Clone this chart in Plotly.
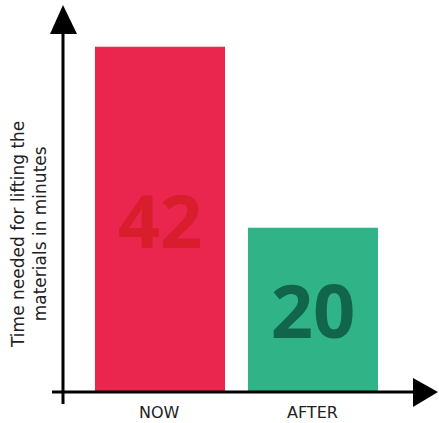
import plotly.graph_objects as go

categories = ["NOW", "AFTER"]
values = [42, 20]
bar_colors = ["#EA264F", "#30B386"]
label_colors = ["#D81E2C", "#10654A"]
y_title_lines = ["Time needed for lifting the", "materials in minutes"]

W, H = 439, 423
def px(x): return x / W
def py(y): return 1 - y / H

fig = go.Figure(go.Bar(
    x=[0, 1], y=values, width=0.85,
    marker=dict(color=bar_colors, line=dict(width=0)),
    text=[str(v) for v in values], textposition="inside",
    insidetextanchor="middle", textangle=0,
    textfont=dict(family="Open Sans", size=74, color=label_colors, weight=700),
    cliponaxis=False,
))

fig.update_layout(
    width=W, height=H, margin=dict(l=0, r=0, t=0, b=0),
    paper_bgcolor="white", plot_bgcolor="white", showlegend=False,
    xaxis=dict(domain=[63 / W, 1], range=[-0.634, 1.824], showgrid=False,
               zeroline=False, showline=False, showticklabels=False, fixedrange=True),
    yaxis=dict(domain=[31 / H, 1], range=[0, 47.7], showgrid=False,
               zeroline=False, showline=False, showticklabels=False, fixedrange=True),
)

# category labels
for i, c in enumerate(categories):
    fig.add_annotation(x=i, y=0, xref="x", yref="y", yshift=-20, text=c,
                       showarrow=False, font=dict(family="DejaVu Sans", size=16, color="#222"))

# y title
fig.add_annotation(x=px(29), y=py(235), xref="paper", yref="paper",
                   xanchor="center", yanchor="middle",
                   text="<br>".join(y_title_lines), textangle=-90, showarrow=False,
                   font=dict(family="DejaVu Sans", size=17, color="#222"), align="center")

# axes with arrows
black = "#000"
fig.add_shape(type="line", xref="paper", yref="paper", x0=px(63), x1=px(63),
              y0=py(404), y1=py(30), line=dict(color=black, width=3))
fig.add_shape(type="path", xref="paper", yref="paper",
              path=f"M {px(50)} {py(34)} L {px(63)} {py(5)} L {px(77)} {py(34)} Z",
              fillcolor=black, line=dict(width=0))
fig.add_shape(type="line", xref="paper", yref="paper", x0=px(52), x1=px(416),
              y0=py(392), y1=py(392), line=dict(color=black, width=3))
fig.add_shape(type="path", xref="paper", yref="paper",
              path=f"M {px(413)} {py(378)} L {px(438)} {py(392)} L {px(413)} {py(407)} Z",
              fillcolor=black, line=dict(width=0))

fig.write_html("out.html")
